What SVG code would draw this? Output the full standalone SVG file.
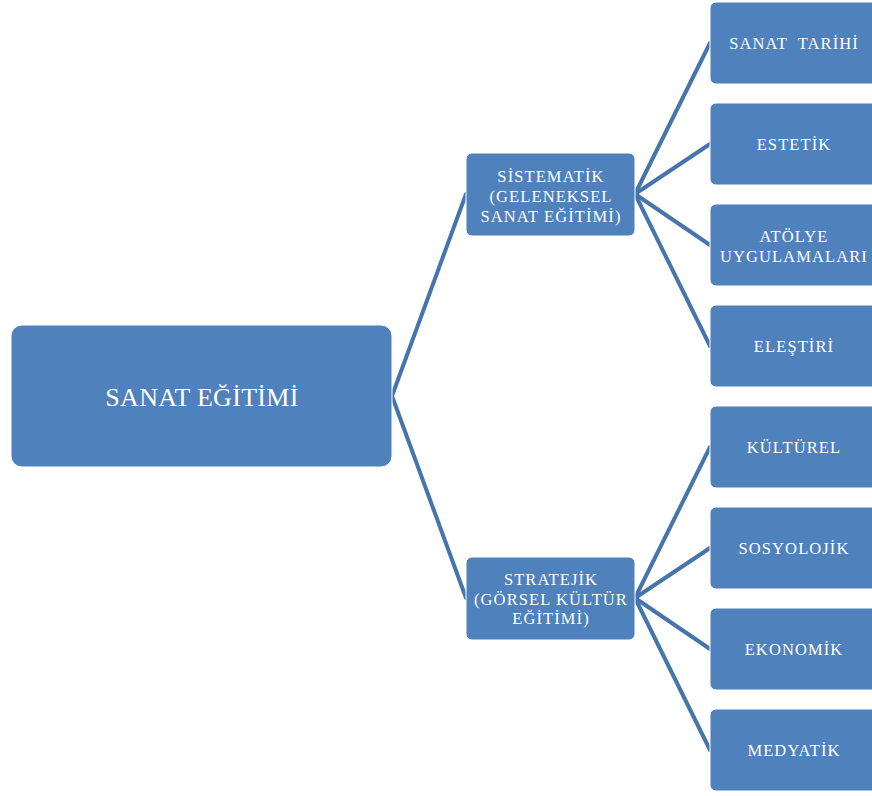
<svg xmlns="http://www.w3.org/2000/svg" width="872" height="796" viewBox="0 0 872 796">
  <style>
    .box { fill: #4F81BD; stroke: #ffffff; stroke-width: 1; }
    .lbl { fill: #ffffff; font-family: "Liberation Serif", "Times New Roman", serif; font-size: 16.5px; letter-spacing: 1.1px; text-anchor: middle; }
    .root { font-size: 26px; letter-spacing: 0.3px; }
    .link { stroke: #4674AD; stroke-width: 4; fill: none; stroke-linecap: round; }
  </style>
  <rect width="872" height="796" fill="#ffffff"/>

  <!-- connectors -->
  <g id="connectors">
    <path class="link" d="M392,396 L466,194"/>
    <path class="link" d="M392,396 L466,598"/>
    <path class="link" d="M635,194 L710,43"/>
    <path class="link" d="M635,194 L710,144"/>
    <path class="link" d="M635,194 L710,245"/>
    <path class="link" d="M635,194 L710,346"/>
    <path class="link" d="M635,598 L710,447"/>
    <path class="link" d="M635,598 L710,548"/>
    <path class="link" d="M635,598 L710,649"/>
    <path class="link" d="M635,598 L710,750"/>
  </g>

  <!-- root -->
  <g id="sanat-egitimi">
    <rect class="box" x="11" y="325" width="381" height="142" rx="11"/>
    <text class="lbl root" x="202" y="406">SANAT EĞİTİMİ</text>
  </g>

  <!-- second level -->
  <g id="sistematik">
    <rect class="box" x="466" y="153" width="169" height="83" rx="6"/>
    <text class="lbl" x="551" y="182">SİSTEMATİK</text>
    <text class="lbl" x="551" y="202">(GELENEKSEL</text>
    <text class="lbl" x="551" y="222">SANAT EĞİTİMİ)</text>
  </g>
  <g id="stratejik">
    <rect class="box" x="466" y="557" width="169" height="83" rx="6"/>
    <text class="lbl" x="551" y="585">STRATEJİK</text>
    <text class="lbl" x="551" y="605">(GÖRSEL KÜLTÜR</text>
    <text class="lbl" x="551" y="624">EĞİTİMİ)</text>
  </g>

  <!-- leaves -->
  <g id="sanat-tarihi">
    <rect class="box" x="710" y="2" width="168" height="82" rx="6"/>
    <text class="lbl" x="794" y="49" xml:space="preserve">SANAT  TARİHİ</text>
  </g>
  <g id="estetik">
    <rect class="box" x="710" y="103" width="168" height="82" rx="6"/>
    <text class="lbl" x="794" y="150">ESTETİK</text>
  </g>
  <g id="atolye">
    <rect class="box" x="710" y="204" width="168" height="82" rx="6"/>
    <text class="lbl" x="794" y="242">ATÖLYE</text>
    <text class="lbl" x="794" y="262">UYGULAMALARI</text>
  </g>
  <g id="elestiri">
    <rect class="box" x="710" y="305" width="168" height="82" rx="6"/>
    <text class="lbl" x="794" y="352">ELEŞTİRİ</text>
  </g>
  <g id="kulturel">
    <rect class="box" x="710" y="406" width="168" height="82" rx="6"/>
    <text class="lbl" x="794" y="453">KÜLTÜREL</text>
  </g>
  <g id="sosyolojik">
    <rect class="box" x="710" y="507" width="168" height="82" rx="6"/>
    <text class="lbl" x="794" y="554">SOSYOLOJİK</text>
  </g>
  <g id="ekonomik">
    <rect class="box" x="710" y="608" width="168" height="82" rx="6"/>
    <text class="lbl" x="794" y="655">EKONOMİK</text>
  </g>
  <g id="medyatik">
    <rect class="box" x="710" y="709" width="168" height="82" rx="6"/>
    <text class="lbl" x="794" y="756">MEDYATİK</text>
  </g>
</svg>
